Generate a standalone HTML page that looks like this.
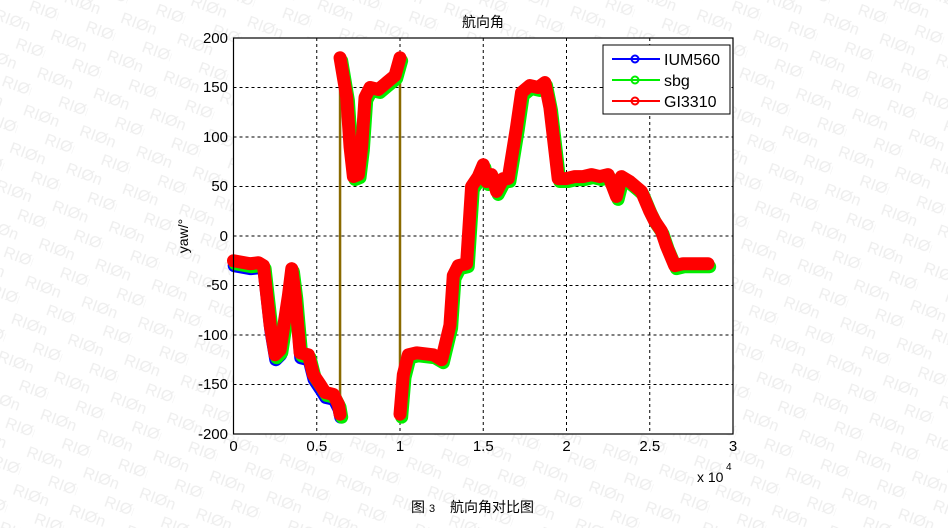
<!DOCTYPE html>
<html><head><meta charset="utf-8"><style>
html,body{margin:0;padding:0;background:#fff;}
svg{display:block;font-family:"Liberation Sans","Noto Sans CJK SC",sans-serif;}
</style></head><body>
<svg width="948" height="528" viewBox="0 0 948 528" xmlns="http://www.w3.org/2000/svg">
<defs>
<pattern id="wm" width="60" height="40" patternUnits="userSpaceOnUse" patternTransform="rotate(20)">
<text x="0" y="20" font-size="16" fill="#eeeeee">RIØn</text>
<text x="30" y="40" font-size="16" fill="#eeeeee">RIØn</text>
</pattern>
</defs>
<rect width="948" height="528" fill="#fff"/>
<rect width="948" height="528" fill="url(#wm)"/>
<rect x="233.5" y="38" width="499.5" height="396" fill="#fff"/>
<g stroke="#000" stroke-width="1" stroke-dasharray="3,3" fill="none">
<line x1="316.75" y1="38" x2="316.75" y2="434"/>
<line x1="400" y1="38" x2="400" y2="434"/>
<line x1="483.25" y1="38" x2="483.25" y2="434"/>
<line x1="566.5" y1="38" x2="566.5" y2="434"/>
<line x1="649.75" y1="38" x2="649.75" y2="434"/>
<line x1="233.5" y1="87.5" x2="733" y2="87.5"/>
<line x1="233.5" y1="137" x2="733" y2="137"/>
<line x1="233.5" y1="186.5" x2="733" y2="186.5"/>
<line x1="233.5" y1="236" x2="733" y2="236"/>
<line x1="233.5" y1="285.5" x2="733" y2="285.5"/>
<line x1="233.5" y1="335" x2="733" y2="335"/>
<line x1="233.5" y1="384.5" x2="733" y2="384.5"/>
</g>
<g transform="translate(233.5,236) scale(166.5,-0.99)" fill="none" stroke-linejoin="round" stroke-linecap="round">
<line x1="0.64" y1="-180" x2="0.64" y2="180" stroke="#8a6a00" stroke-width="2.5" vector-effect="non-scaling-stroke"/>
<line x1="1.0" y1="-180" x2="1.0" y2="180" stroke="#8a6a00" stroke-width="2.5" vector-effect="non-scaling-stroke"/>
<polyline transform="translate(0.004,-3)" stroke="#0000ff" stroke-width="13" vector-effect="non-scaling-stroke" points="0,-27 0.1,-30 0.15,-29 0.18,-32 0.22,-92 0.25,-122 0.28,-117 0.33,-62 0.35,-35 0.37,-62 0.4,-120 0.45,-122 0.48,-142 0.52,-152 0.55,-160 0.6,-162 0.63,-172 0.64,-180"/>
<g transform="translate(0.01,-3)" stroke="#00ee00" stroke-width="13">
<polyline vector-effect="non-scaling-stroke" points="0,-25 0.1,-28 0.15,-27 0.18,-30 0.22,-90 0.25,-120 0.28,-115 0.33,-60 0.35,-33 0.37,-60 0.4,-118 0.45,-120 0.48,-140 0.52,-150 0.55,-158 0.6,-160 0.63,-170 0.64,-180"/>
<polyline vector-effect="non-scaling-stroke" points="0.64,180 0.68,140 0.7,90 0.72,60 0.75,62 0.77,90 0.79,140 0.82,150 0.87,148 0.92,155 0.97,162 1.0,180"/>
<polyline vector-effect="non-scaling-stroke" points="1.0,-180 1.02,-140 1.05,-120 1.1,-118 1.2,-120 1.25,-125 1.3,-90 1.32,-40 1.35,-30 1.4,-28 1.43,50 1.47,60 1.5,72 1.52,55 1.55,62 1.58,45 1.62,58 1.65,58 1.7,110 1.73,145 1.78,152 1.83,150 1.87,155 1.9,130 1.95,58 2.0,58 2.05,60 2.1,60 2.15,62 2.2,60 2.25,62 2.3,40 2.33,60 2.38,55 2.45,45 2.5,25 2.53,15 2.57,5 2.6,-10 2.65,-30 2.7,-28 2.85,-28"/>
</g>
<g stroke="#ff0000" stroke-width="13">
<polyline vector-effect="non-scaling-stroke" points="0,-25 0.1,-28 0.15,-27 0.18,-30 0.22,-90 0.25,-120 0.28,-115 0.33,-60 0.35,-33 0.37,-60 0.4,-118 0.45,-120 0.48,-140 0.52,-150 0.55,-158 0.6,-160 0.63,-170 0.64,-180"/>
<polyline vector-effect="non-scaling-stroke" points="0.64,180 0.68,140 0.7,90 0.72,60 0.75,62 0.77,90 0.79,140 0.82,150 0.87,148 0.92,155 0.97,162 1.0,180"/>
<polyline vector-effect="non-scaling-stroke" points="1.0,-180 1.02,-140 1.05,-120 1.1,-118 1.2,-120 1.25,-125 1.3,-90 1.32,-40 1.35,-30 1.4,-28 1.43,50 1.47,60 1.5,72 1.52,55 1.55,62 1.58,45 1.62,58 1.65,58 1.7,110 1.73,145 1.78,152 1.83,150 1.87,155 1.9,130 1.95,58 2.0,58 2.05,60 2.1,60 2.15,62 2.2,60 2.25,62 2.3,40 2.33,60 2.38,55 2.45,45 2.5,25 2.53,15 2.57,5 2.6,-10 2.65,-30 2.7,-28 2.85,-28"/>
</g>
</g>
<rect x="233.5" y="38" width="499.5" height="396" fill="none" stroke="#000" stroke-width="1.2"/>
<g font-size="15" fill="#000" text-anchor="end">
<text x="228" y="43">200</text><text x="228" y="92">150</text><text x="228" y="142">100</text>
<text x="228" y="191">50</text><text x="228" y="241">0</text><text x="228" y="290">-50</text>
<text x="228" y="340">-100</text><text x="228" y="389">-150</text><text x="228" y="439">-200</text>
</g>
<g font-size="15" fill="#000" text-anchor="middle">
<text x="233.5" y="451">0</text><text x="316.75" y="451">0.5</text><text x="400" y="451">1</text>
<text x="483.25" y="451">1.5</text><text x="566.5" y="451">2</text><text x="649.75" y="451">2.5</text><text x="733" y="451">3</text>
</g>
<text x="697" y="482" font-size="14">x 10</text><text x="726" y="470" font-size="10">4</text>
<text x="483" y="27" font-size="14" text-anchor="middle">航向角</text>
<text transform="translate(188,236) rotate(-90)" font-size="14" text-anchor="middle">yaw/°</text>
<text x="411" y="512" font-size="14">图</text><text x="429" y="512" font-size="11">3</text>
<text x="450" y="512" font-size="14">航向角对比图</text>
<rect x="603" y="45" width="127" height="69" fill="#fff" stroke="#000" stroke-width="1"/>
<g stroke-width="2" fill="none">
<line x1="612" y1="59" x2="660" y2="59" stroke="#0000ff"/><circle cx="635" cy="59" r="3.5" stroke="#0000ff"/>
<line x1="612" y1="80" x2="660" y2="80" stroke="#00ee00"/><circle cx="635" cy="80" r="3.5" stroke="#00ee00"/>
<line x1="612" y1="101" x2="660" y2="101" stroke="#ff0000"/><circle cx="635" cy="101" r="3.5" stroke="#ff0000"/>
</g>
<g font-size="16" fill="#000">
<text x="664" y="65">IUM560</text><text x="664" y="86">sbg</text><text x="664" y="107">GI3310</text>
</g>
</svg>
</body></html>
